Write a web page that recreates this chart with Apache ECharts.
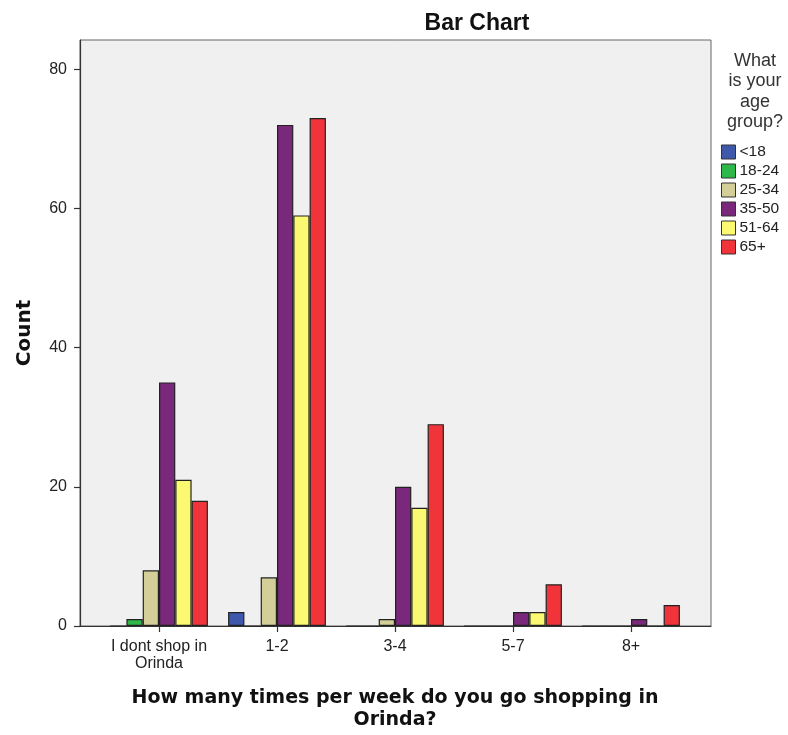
<!DOCTYPE html>
<html>
<head>
<meta charset="utf-8">
<script src="https://cdn.jsdelivr.net/npm/echarts@6/dist/echarts.min.js"></script>
<style>html,body{margin:0;padding:0;background:#fff}#c{width:788px;height:735px}</style>
</head>
<body>
<div id="c"></div>
<script>
const categories = ['I dont shop in\nOrinda', '1-2', '3-4', '5-7', '8+'];
const ageGroups = ['<18', '18-24', '25-34', '35-50', '51-64', '65+'];
const under18 = [0, 2, 0, 0, 0];
const age18to24 = [1, 0, 0, 0, 0];
const age25to34 = [8, 7, 1, 0, 0];
const age35to50 = [35, 72, 20, 2, 1];
const age51to64 = [21, 59, 17, 2, 0];
const age65plus = [18, 73, 29, 6, 3];
const yMax = 84.2;
const yInterval = 20;

const seriesValues = [under18, age18to24, age25to34, age35to50, age51to64, age65plus];
const colors = ['#3e58ac', '#2eb84a', '#d4cf98', '#79287b', '#fbf872', '#f0343a'];

const chart = echarts.init(document.getElementById('c'), null, {renderer: 'canvas'});
const sans = 'Liberation Sans, Arial, sans-serif';

const option = {
  animation: false,
  backgroundColor: '#ffffff',
  title: [
    {text: 'Bar Chart', left: 472, top: 7, textAlign: 'center',
     textStyle: {fontFamily: sans, fontWeight: 'bold', fontSize: 23, color: '#111'}},
    {text: 'What\nis your\nage\ngroup?', left: 750, top: 46, textAlign: 'center',
     textStyle: {fontFamily: sans, fontWeight: 'normal', fontSize: 18, lineHeight: 20.3, color: '#333'}}
  ],
  legend: {
    orient: 'vertical', left: 721, top: 144, padding: 0,
    itemWidth: 14, itemHeight: 14, itemGap: 3, icon: 'rect',
    itemStyle: {borderColor: '#333', borderWidth: 1},
    textStyle: {fontFamily: sans, fontSize: 15.5, color: '#222', padding: [0, 0, 0, -1]},
    data: ageGroups
  },
  color: colors,
  grid: [
    {left: 80, top: 40, width: 631, height: 586, show: true, backgroundColor: '#f0f0f0',
     borderColor: '#666', borderWidth: 1, containLabel: false, outerBoundsMode: 'none'},
    {left: 100, top: 40, width: 590, height: 586, containLabel: false, outerBoundsMode: 'none'}
  ],
  xAxis: [
    {gridIndex: 0, type: 'value', min: 0, max: 1,
     axisLine: {show: true, lineStyle: {color: '#333', width: 1.2}},
     axisTick: {show: false}, axisLabel: {show: false}, splitLine: {show: false}},
    {gridIndex: 1, type: 'category', data: categories,
     axisLine: {show: false},
     axisTick: {show: true, alignWithLabel: true, length: 6, lineStyle: {color: '#333', width: 1.2}},
     axisLabel: {fontFamily: sans, fontSize: 16, color: '#222', margin: 12, lineHeight: 17, interval: 0},
     name: 'How many times per week do you go shopping in\nOrinda?',
     nameLocation: 'middle', nameGap: 61,
     nameTextStyle: {fontFamily: 'DejaVu Sans, sans-serif', fontWeight: 'bold', fontSize: 19, lineHeight: 22, color: '#111'}}
  ],
  yAxis: [
    {gridIndex: 0, type: 'value', min: 0, max: yMax, interval: yInterval,
     axisLine: {show: true, lineStyle: {color: '#333', width: 1.2}},
     axisTick: {show: true, length: 6, lineStyle: {color: '#333', width: 1.2}},
     axisLabel: {fontFamily: sans, fontSize: 16, color: '#222', margin: 13,
       showMaxLabel: false, formatter: v => (v % yInterval === 0 ? String(v) : '')},
     splitLine: {show: false},
     name: 'Count', nameLocation: 'middle', nameGap: 45,
     nameTextStyle: {fontFamily: 'DejaVu Sans, sans-serif', fontWeight: 'bold', fontSize: 20, color: '#111'}},
    {gridIndex: 1, type: 'value', min: 0, max: yMax, show: false, splitLine: {show: false}}
  ],
  series: ageGroups.map((name, i) => ({
    name: name,
    type: 'bar',
    xAxisIndex: 1,
    yAxisIndex: 1,
    barWidth: 16.3,
    barGap: '0%',
    data: seriesValues[i],
    itemStyle: {color: colors[i], borderColor: '#222', borderWidth: 1.2}
  }))
};
chart.setOption(option);
</script>
</body>
</html>
